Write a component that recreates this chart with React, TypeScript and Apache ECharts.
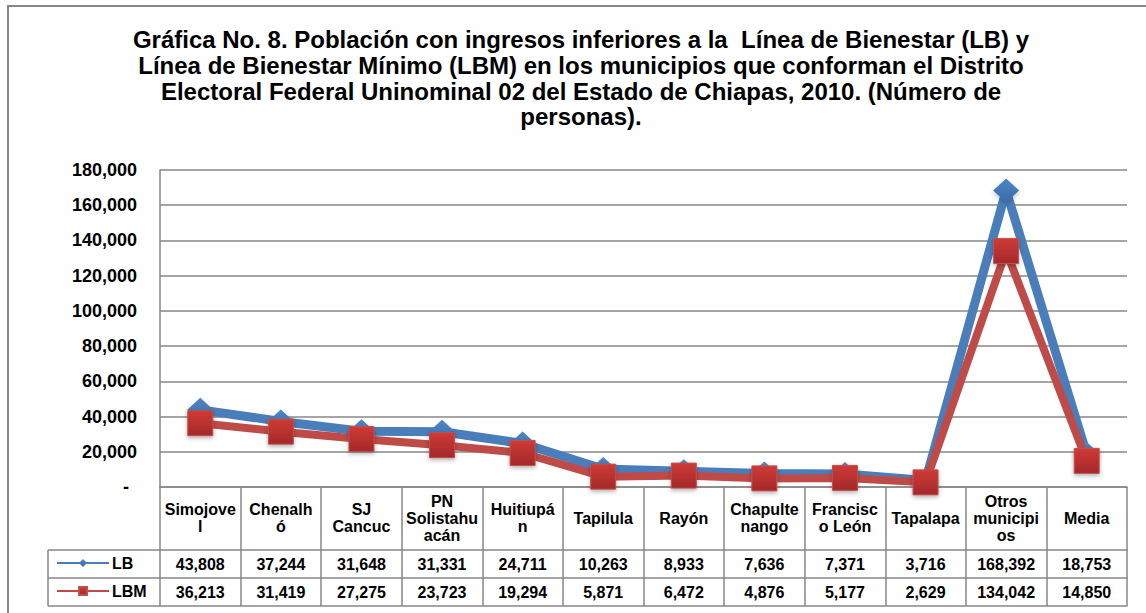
import React, { useEffect, useRef } from "react";
import * as echarts from "echarts";

const categories = [
  "Simojove\nl",
  "Chenalh\nó",
  "SJ\nCancuc",
  "PN\nSolistahu\nacán",
  "Huitiupá\nn",
  "Tapilula",
  "Rayón",
  "Chapulte\nnango",
  "Francisc\no León",
  "Tapalapa",
  "Otros\nmunicipi\nos",
  "Media",
];
const lbValues = [43808, 37244, 31648, 31331, 24711, 10263, 8933, 7636, 7371, 3716, 168392, 18753];
const lbmValues = [36213, 31419, 27275, 23723, 19294, 5871, 6472, 4876, 5177, 2629, 134042, 14850];
const yTicks = { min: 0, max: 180000, interval: 20000 };
const titleText =
  "Gráfica No. 8. Población con ingresos inferiores a la  Línea de Bienestar (LB) y\n" +
  "Línea de Bienestar Mínimo (LBM) en los municipios que conforman el Distrito\n" +
  "Electoral Federal Uninominal 02 del Estado de Chiapas, 2010. (Número de\n" +
  "personas).";

const fmt = (v: number) => v.toLocaleString("en-US");
const FONT = "'Liberation Sans', Arial, sans-serif";
const GRID_COLOR = "#878787";

export default function App() {
  const ref = useRef<HTMLDivElement>(null);
  useEffect(() => {
    if (!ref.current) return;
    const chart = echarts.init(ref.current, undefined, { renderer: "svg" });
    const labelBase = {
      color: "#000",
      fontWeight: "bold" as const,
      fontSize: 16,
      fontFamily: FONT,
    };
    const valueAxis = (data: string[], offset: number, showLabel: boolean) => ({
      type: "category" as const,
      data,
      position: "bottom" as const,
      offset,
      axisLine: { show: true, lineStyle: { color: GRID_COLOR, width: 1.5 } },
      axisTick: { show: false },
      axisLabel: {
        show: showLabel,
        interval: 0,
        margin: 14,
        verticalAlign: "middle" as const,
        ...labelBase,
      },
    });
    const legendBase = {
      orient: "horizontal" as const,
      left: 56,
      padding: 0,
      itemWidth: 52,
      itemHeight: 10,
      textStyle: { ...labelBase, padding: [0, 0, 0, -2] },
    };
    chart.setOption({
      animation: false,
      backgroundColor: "#fff",
      graphic: [
        {
          type: "rect",
          z: -10,
          shape: { x: 8, y: 6, width: 1300, height: 800 },
          style: { fill: "none", stroke: GRID_COLOR, lineWidth: 2 },
        },
        {
          type: "text",
          x: 581,
          y: 27,
          style: {
            text: titleText,
            textAlign: "center",
            fontSize: 24,
            fontWeight: "bold",
            fontFamily: FONT,
            lineHeight: 25.7,
            fill: "#000",
          },
        },
        { type: "line", shape: { x1: 48, y1: 550, x2: 160, y2: 550 }, style: { stroke: GRID_COLOR, lineWidth: 1.5 } },
        { type: "line", shape: { x1: 48, y1: 578, x2: 160, y2: 578 }, style: { stroke: GRID_COLOR, lineWidth: 1.5 } },
        { type: "line", shape: { x1: 48, y1: 606, x2: 160, y2: 606 }, style: { stroke: GRID_COLOR, lineWidth: 1.5 } },
        { type: "line", shape: { x1: 48, y1: 550, x2: 48, y2: 606 }, style: { stroke: GRID_COLOR, lineWidth: 1.5 } },
      ],
      legend: [
        { ...legendBase, data: ["LB"], top: 555 },
        { ...legendBase, data: ["LBM"], top: 583 },
      ],
      grid: { left: 160, right: 19, top: 170, bottom: 126, containLabel: false },
      xAxis: [
        {
          type: "category",
          data: categories,
          position: "bottom",
          boundaryGap: true,
          axisLine: { show: true, lineStyle: { color: GRID_COLOR, width: 1.5 } },
          axisTick: { show: true, interval: 0, length: 119, lineStyle: { color: GRID_COLOR, width: 1.5 } },
          axisLabel: {
            interval: 0,
            margin: 31,
            verticalAlign: "middle",
            lineHeight: 17,
            ...labelBase,
          },
        },
        valueAxis(lbValues.map(fmt), 63, true),
        valueAxis(lbmValues.map(fmt), 91, true),
        valueAxis(categories, 119, false),
      ],
      yAxis: {
        type: "value",
        min: yTicks.min,
        max: yTicks.max,
        interval: yTicks.interval,
        axisLine: { show: true, lineStyle: { color: GRID_COLOR, width: 1.5 } },
        axisTick: { show: false },
        splitLine: { show: true, lineStyle: { color: GRID_COLOR, width: 1.5 } },
        axisLabel: {
          margin: 23,
          ...labelBase,
          fontSize: 18,
          formatter: (v: number) => (v === 0 ? "{d|-}" : fmt(v)),
          rich: { d: { ...labelBase, fontSize: 18, padding: [0, 8, 0, 0] } },
        },
      },
      series: [
        {
          name: "LB",
          type: "line",
          data: lbValues,
          xAxisIndex: 0,
          symbol: "diamond",
          symbolSize: [26, 24],
          lineStyle: { color: "#4a7ebb", width: 9 },
          itemStyle: {
            color: new echarts.graphic.LinearGradient(0, 0, 0, 1, [
              { offset: 0, color: "#4f86c6" },
              { offset: 1, color: "#3a6aa8" },
            ]),
            shadowBlur: 4,
            shadowColor: "rgba(0,0,0,0.25)",
            shadowOffsetY: 2,
          },
          z: 2,
        },
        {
          name: "LBM",
          type: "line",
          data: lbmValues,
          xAxisIndex: 0,
          symbol: "rect",
          symbolSize: 25,
          lineStyle: { color: "#be4b48", width: 8 },
          itemStyle: {
            color: new echarts.graphic.LinearGradient(0, 0, 0, 1, [
              { offset: 0, color: "#cf3b35" },
              { offset: 1, color: "#a3282a" },
            ]),
            borderColor: "#c0504d",
            borderWidth: 1,
            shadowBlur: 4,
            shadowColor: "rgba(0,0,0,0.3)",
            shadowOffsetY: 2,
          },
          z: 3,
        },
      ],
    });
    return () => chart.dispose();
  }, []);
  return (
    <div
      ref={ref}
      style={{ position: "fixed", left: 0, top: 0, width: 1146, height: 613 }}
    />
  );
}
